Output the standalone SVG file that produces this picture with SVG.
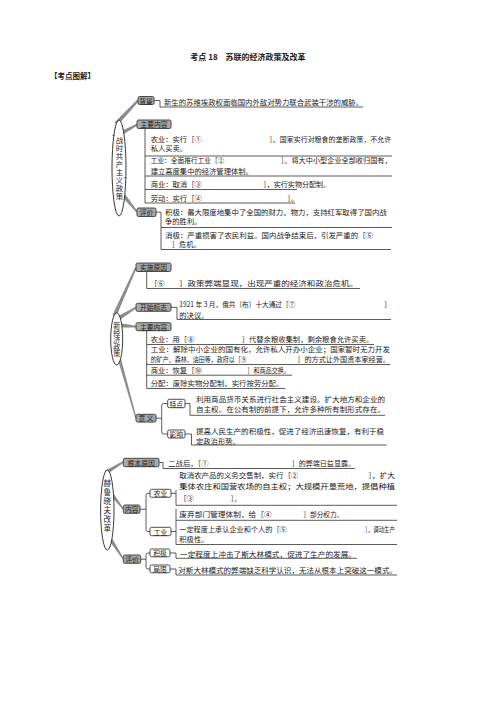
<svg xmlns="http://www.w3.org/2000/svg" width="496" height="702" viewBox="0 0 496 702">
<style>
.t{font-family:"Noto Sans CJK SC","Noto Sans",sans-serif;font-size:7.3px;fill:#1a1a1a}
.lb{font-family:"Noto Sans CJK SC","Noto Sans",sans-serif;font-size:6.8px;fill:#1a1a1a;text-anchor:middle;dominant-baseline:central}
.vt{font-family:"Noto Sans CJK SC","Noto Sans",sans-serif;fill:#1a1a1a;text-anchor:middle;writing-mode:vertical-rl}
.q{font-family:"Liberation Serif",serif;font-size:6px;fill:#1a1a1a;text-anchor:middle;dominant-baseline:central}
.gb{fill:#a9a9a9;stroke:#3a3a3a;stroke-width:0.9}
.wb{fill:#fff;stroke:#3a3a3a;stroke-width:0.9}
.ln{fill:none;stroke:#333;stroke-width:0.8}
.wd{fill:#8c8c8c}
.el{fill:#fff;stroke:#222;stroke-width:0.9}
.hd{font-family:"Noto Sans CJK SC","Noto Sans",sans-serif;font-weight:bold;fill:#1a1a1a}
</style>
<rect width="496" height="702" fill="#fff"/>
<text class="hd" x="248" y="60" font-size="8" text-anchor="middle">考点 18　苏联的经济政策及改革</text>
<text class="hd" x="50" y="79" font-size="7.5">【考点图解】</text>

<g id="connectors">
  <polygon class="wd" points="114.5,122.6 137.4,99.5 138.6,101.5 117.5,125.4"/>
  <polygon class="wd" points="119,132.3 136.6,123.8 137.4,125.6 121,135.7"/>
  <polygon class="wd" points="122.4,197.3 136.4,212.5 137.6,211.5 125.6,194.7"/>
  <path class="ln" d="M154,100.5H160V107H363"/>
  <path class="ln" d="M145,128.5V203H295"/>
  <path class="ln" d="M145,156H392M145,176H392M145,189.5H297"/>
  <path class="ln" d="M156,212.2H161M161,212.2V249.5H391M161,227.5H392"/>
  <polygon class="wd" points="112.5,315 135.3,267 136.7,268 116,317"/>
  <polygon class="wd" points="116.5,317 135.6,306.7 136.4,308.3 119,320.5"/>
  <polygon class="wd" points="119,323 136,325.8 136,327.4 120,327.5"/>
  <polygon class="wd" points="118,360 135.4,418.4 136.6,418 121,359"/>
  <path class="ln" d="M146.7,271.5V288.5H360"/>
  <path class="ln" d="M171,307.3H177V319.5H391"/>
  <path class="ln" d="M146.7,330.7V388.5H285"/>
  <path class="ln" d="M146.7,344.5H374M146.7,364.5H390M146.7,375.2H292"/>
  <path class="ln" d="M156,418.2H161.7M167.7,403.5H163.7Q161.7,403.5 161.7,405.5V432Q161.7,434 163.7,434H167.7"/>
  <path class="ln" d="M185,403.5H190V415.3H385"/>
  <path class="ln" d="M185,434H191.5V445H386.7"/>
  <polygon class="wd" points="104.5,471 122.8,461.2 123.6,462.8 107.5,474"/>
  <polygon class="wd" points="110.5,495.5 122.8,509.6 123.8,508.8 113.5,493.5"/>
  <polygon class="wd" points="109.5,541 122.8,559.6 123.8,558.8 112.5,539"/>
  <path class="ln" d="M159,462.5H163V468.5H355"/>
  <path class="ln" d="M140,509.2H146M150,493.3H148Q146,493.3 146,495.3V529.5Q146,531.5 148,531.5H150"/>
  <path class="ln" d="M171,493.3H176M176,490V505.3H397"/>
  <path class="ln" d="M171,531.5H176M176,509V544.5H397M176,520.3H397"/>
  <path class="ln" d="M140.7,559.2H146M150,553H148Q146,553 146,555V567Q146,569 148,569H150"/>
  <path class="ln" d="M170,553H176V558.3H357"/>
  <path class="ln" d="M170,569H176V575H397"/>
</g>

<g id="zhanshi">
  <ellipse class="el" cx="119" cy="168" rx="7" ry="48"/>
  <text class="q" x="113.6" y="136.5">“</text>
  <text class="vt" x="119.5" y="168" font-size="7.4" letter-spacing="0.6">战时共产主义政策</text>
  <text class="q" x="125" y="179">”</text>
</g>
<g id="z-beijing">
  <rect class="gb" x="138" y="96.5" width="16" height="8" rx="1.5"/>
  <text class="lb" x="146" y="100.5">背景</text>
  <text class="t" x="164" y="104.5" textLength="199" lengthAdjust="spacingAndGlyphs">新生的苏维埃政权面临国内外敌对势力联合武装干涉的威胁。</text>
</g>
<g id="z-neirong">
  <rect class="gb" x="137" y="120" width="34" height="8.5" rx="1.5"/>
  <text class="lb" x="154" y="124.2">主要内容</text>
  <text class="t" x="150.7" y="141.9">农业：实行［①</text>
  <text class="t" x="269.3" y="141.9" textLength="122" lengthAdjust="spacingAndGlyphs">］。国家实行对粮食的垄断政策，不允许</text>
  <text class="t" x="150.7" y="151">私人买卖。</text>
  <text class="t" x="150.7" y="163" textLength="73.6" lengthAdjust="spacingAndGlyphs">工业：全面推行工业［②</text>
  <text class="t" x="280.7" y="163" textLength="111" lengthAdjust="spacingAndGlyphs">］。将大中小型企业全部收归国有，</text>
  <text class="t" x="150.7" y="173.6">建立高度集中的经济管理体制。</text>
  <text class="t" x="150.7" y="187.2">商业：取消［③</text>
  <text class="t" x="263.3" y="187.2" textLength="66.7" lengthAdjust="spacingAndGlyphs">］，实行实物分配制。</text>
  <text class="t" x="150.7" y="200.6">劳动：实行［④</text>
  <text class="t" x="287.3" y="200.6">］。</text>
</g>
<g id="z-pingjia">
  <rect class="gb" x="137" y="208" width="19" height="8.5" rx="1.5"/>
  <text class="lb" x="146.5" y="212.2">评价</text>
  <text class="t" x="165" y="215.1" textLength="221.7" lengthAdjust="spacingAndGlyphs">积极：最大限度地集中了全国的财力、物力，支持红军取得了国内战</text>
  <text class="t" x="165" y="224.3">争的胜利。</text>
  <text class="t" x="165" y="237.5" textLength="208" lengthAdjust="spacingAndGlyphs">消极：严重损害了农民利益。国内战争结束后，引发严重的［⑤</text>
  <text class="t" x="171.7" y="246.7">］危机。</text>
</g>

<g id="xinjingji">
  <ellipse class="el" cx="116.7" cy="339" rx="6" ry="26"/>
  <text class="vt" x="116.7" y="339.5" font-size="7" letter-spacing="0.2">新经济政策</text>
</g>
<g id="x-yuanyin">
  <rect class="gb" x="136" y="263" width="35" height="8.5" rx="1.5"/>
  <text class="lb" x="153.5" y="267.2">实施原因</text>
  <text class="t" x="150" y="286.2">［⑥</text>
  <text class="t" x="179" y="286.2" textLength="179" lengthAdjust="spacingAndGlyphs">］政策弊端显现，出现严重的经济和政治危机。</text>
</g>
<g id="x-biaozhi">
  <rect class="gb" x="136" y="303.3" width="35" height="8" rx="1.5"/>
  <text class="lb" x="153.5" y="307.3">开始标志</text>
  <text class="t" x="179.3" y="306.8" textLength="116" lengthAdjust="spacingAndGlyphs">1921 年 3 月，俄共（布）十大通过［⑦</text>
  <text class="t" x="384" y="306.8">］</text>
  <text class="t" x="179.3" y="317.6">的决议。</text>
</g>
<g id="x-neirong">
  <rect class="gb" x="136" y="322.7" width="35" height="8" rx="1.5"/>
  <text class="lb" x="153.5" y="326.7">主要内容</text>
  <text class="t" x="150.7" y="342.2">农业：用［⑧</text>
  <text class="t" x="241.7" y="342.2" textLength="131.6" lengthAdjust="spacingAndGlyphs">］代替余粮收集制，剩余粮食允许买卖。</text>
  <text class="t" x="150.7" y="352.2" textLength="239.3" lengthAdjust="spacingAndGlyphs">工业：解除中小企业的国有化，允许私人开办小企业；国家暂时无力开发</text>
  <text class="t" x="150.7" y="362" textLength="96" lengthAdjust="spacingAndGlyphs">的矿产、森林、油田等，政府以［⑨</text>
  <text class="t" x="297.3" y="362" textLength="92.7" lengthAdjust="spacingAndGlyphs">］的方式让外国资本家经营。</text>
  <text class="t" x="150.7" y="373.4">商业：恢复［⑩</text>
  <text class="t" x="247.3" y="373.4" textLength="42.7" lengthAdjust="spacingAndGlyphs">］和商品交换。</text>
  <text class="t" x="150.7" y="386.2" textLength="132.6" lengthAdjust="spacingAndGlyphs">分配：废除实物分配制，实行按劳分配。</text>
</g>
<g id="x-yiyi">
  <rect class="gb" x="136" y="414.3" width="20" height="7.8" rx="1.5"/>
  <text class="lb" x="146" y="418.2">意 义</text>
</g>
<g id="x-tedian">
  <rect class="wb" x="167.7" y="399.3" width="17.3" height="8.4" rx="1.5"/>
  <text class="lb" x="176.3" y="403.5">特点</text>
  <text class="t" x="196" y="401.9" textLength="189" lengthAdjust="spacingAndGlyphs">利用商品货币关系进行社会主义建设。扩大地方和企业的</text>
  <text class="t" x="196" y="411.9" textLength="189" lengthAdjust="spacingAndGlyphs">自主权。在公有制的前提下，允许多种所有制形式存在。</text>
</g>
<g id="x-yingxiang">
  <rect class="wb" x="167.7" y="430" width="17.3" height="8" rx="1.5"/>
  <text class="lb" x="176.3" y="434">影响</text>
  <text class="t" x="196" y="434.3" textLength="188" lengthAdjust="spacingAndGlyphs">提高人民生产的积极性，促进了经济迅速恢复，有利于稳</text>
  <text class="t" x="196" y="443.5">定政治形势。</text>
</g>

<g id="heluxiaofu">
  <ellipse class="el" cx="107.3" cy="510" rx="6.7" ry="40"/>
  <text class="vt" x="107.3" y="506.5" font-size="7.6" letter-spacing="1.4">赫鲁晓夫改革</text>
</g>
<g id="h-yuanyin">
  <rect class="gb" x="123.3" y="458.3" width="35.7" height="8.4" rx="1.5"/>
  <text class="lb" x="141.2" y="462.5">根本原因</text>
  <text class="t" x="168.3" y="466.2">二战后，［①</text>
  <text class="t" x="291.7" y="466.2" textLength="63.3" lengthAdjust="spacingAndGlyphs">］的弊端日益显露。</text>
</g>
<g id="h-neirong">
  <rect class="gb" x="123.3" y="505" width="16.7" height="8.3" rx="1.5"/>
  <text class="lb" x="131.7" y="509.2">内容</text>
</g>
<g id="h-nongye">
  <rect class="wb" x="150" y="489.3" width="21" height="8" rx="1.5"/>
  <text class="lb" x="160.5" y="493.3">农业</text>
  <text class="t" x="179.3" y="477.9" textLength="119" lengthAdjust="spacingAndGlyphs">取消农产品的义务交售制，实行［②</text>
  <text class="t" x="368.3" y="477.9" textLength="26.7" lengthAdjust="spacingAndGlyphs">］，扩大</text>
  <text class="t" x="179.3" y="488.9" textLength="215.7" lengthAdjust="spacingAndGlyphs">集体农庄和国营农场的自主权；大规模开垦荒地，提倡种植</text>
  <text class="t" x="179.3" y="501.2">［③</text>
  <text class="t" x="230.5" y="501.2">］。</text>
</g>
<g id="h-gongye">
  <rect class="wb" x="150" y="527.3" width="21" height="8.4" rx="1.5"/>
  <text class="lb" x="160.5" y="531.5">工业</text>
  <text class="t" x="179.3" y="516.9" textLength="92.4" lengthAdjust="spacingAndGlyphs">废弃部门管理体制，给［④</text>
  <text class="t" x="303.3" y="516.9" textLength="40" lengthAdjust="spacingAndGlyphs">］部分权力。</text>
  <text class="t" x="179.3" y="532.2" textLength="107.4" lengthAdjust="spacingAndGlyphs">一定程度上承认企业和个人的［⑤</text>
  <text class="t" x="365" y="532.2" textLength="30" lengthAdjust="spacingAndGlyphs">］，调动生产</text>
  <text class="t" x="179.3" y="542">积极性。</text>
</g>
<g id="h-pingjia">
  <rect class="gb" x="123.3" y="555" width="17.4" height="8.3" rx="1.5"/>
  <text class="lb" x="132" y="559.2">评价</text>
</g>
<g id="h-jiji">
  <rect class="wb" x="150" y="549" width="20" height="7.8" rx="1.5"/>
  <text class="lb" x="160" y="552.9">积极</text>
  <text class="t" x="180" y="556.6" textLength="176" lengthAdjust="spacingAndGlyphs">一定程度上冲击了斯大林模式，促进了生产的发展。</text>
</g>
<g id="h-juxian">
  <rect class="wb" x="150" y="565" width="20" height="7.8" rx="1.5"/>
  <text class="lb" x="160" y="568.9">局限</text>
  <text class="t" x="178.3" y="572.7" textLength="218.7" lengthAdjust="spacingAndGlyphs">对斯大林模式的弊端缺乏科学认识，无法从根本上突破这一模式。</text>
</g>
</svg>
